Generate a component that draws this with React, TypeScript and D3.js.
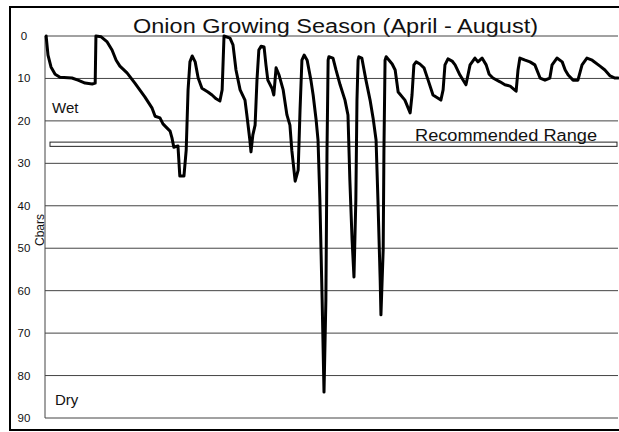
import React from "react";
import * as d3 from "d3";

// soil moisture tension readings, day of season (Apr 1 = 0) vs centibars
const days = [
  0.3, 0.8, 1.6, 2.7, 4.0, 7.2, 8.8, 10.7, 12.6, 13.4, 13.6, 15.0, 16.6, 17.9, 19.0, 20.0,
  21.9, 24.0, 26.7, 28.6, 29.4, 30.7, 31.5, 32.6, 33.4, 33.9, 34.4, 35.5, 36.0, 37.1, 37.7,
  38.2, 38.7, 39.3, 40.1, 40.9, 41.9, 43.5, 44.6, 45.7, 46.7, 47.3, 47.8, 49.4, 50.2, 51.0,
  52.1, 53.4, 53.9, 54.7, 55.0, 55.5, 56.1, 56.6, 57.1, 57.7, 58.5, 59.0, 59.5, 60.6, 61.1,
  61.7, 62.5, 63.6, 64.6, 65.4, 65.9, 66.8, 67.6, 68.1, 68.6, 69.2, 70.0, 71.0, 71.6, 72.4,
  72.9, 73.4, 74.0, 74.5, 75.0, 75.3, 75.6, 75.8, 76.9, 77.7, 78.8, 80.1, 80.9, 81.4, 82.0,
  82.5, 83.0, 83.3, 83.6, 83.8, 84.6, 85.7, 86.8, 87.6, 88.4, 88.9, 89.5, 89.7, 90.3, 90.5,
  90.8, 91.1, 92.7, 93.5, 94.3, 96.1, 97.5, 98.0, 98.5, 99.1, 100.1, 101.2, 102.3, 103.6,
  105.7, 106.3, 106.8, 107.6, 108.7, 109.5, 110.8, 112.4, 113.5, 114.8, 115.6, 116.7, 117.8,
  118.6, 119.6, 121.5, 122.8, 124.2, 125.8, 126.3, 126.8, 128.2, 129.5, 130.8, 132.2, 133.5,
  134.8, 135.4, 136.7, 138.1, 138.9, 139.7, 141.0, 142.3, 143.4, 144.7, 146.1, 148.2, 149.5,
  150.9, 152.2, 153.0,
];
const cbars = [
  0, 4.5, 7.3, 9.0, 9.7, 9.9, 10.4, 11.1, 11.3, 11.1, 0, 0.2, 1.4, 3.3, 5.7, 7.1,
  8.7, 11.1, 14.4, 17.0, 18.9, 19.3, 20.7, 21.7, 22.4, 24.0, 26.2, 25.9, 33.0, 33.0, 26.9,
  12.7, 6.1, 4.7, 6.1, 9.9, 12.3, 13.2, 13.9, 14.8, 15.3, 12.7, 0, 0.5, 2.1, 8.0,
  12.7, 15.1, 18.6, 24.5, 27.3, 23.3, 21.0, 10.4, 3.3, 2.4, 2.6, 6.8, 10.4, 12.3, 13.9,
  7.5, 9.2, 12.7, 18.6, 21.0, 26.9, 34.2, 31.6, 17.4, 5.7, 4.5, 5.7, 10.4, 13.9, 19.8,
  24.5, 38.6, 62.2, 83.9, 62.2, 26.9, 5.7, 4.9, 5.2, 8.0, 11.5, 15.1, 18.6, 33.9, 48.1,
  56.8, 38.6, 15.1, 5.7, 4.9, 5.2, 10.4, 15.1, 19.3, 24.5, 38.6, 57.5, 65.7, 50.4, 26.9,
  5.7, 4.9, 6.6, 8.0, 13.2, 15.1, 18.1, 13.9, 6.8, 6.1, 6.6, 7.5, 10.4, 13.9,
  15.1, 12.7, 6.8, 5.4, 5.9, 6.8, 9.2, 11.5, 6.8, 5.2, 6.1, 5.2, 6.8,
  9.0, 9.9, 10.8, 11.5, 11.8, 13.0, 8.0, 5.2, 5.7, 6.1, 6.8, 9.9, 10.4,
  9.9, 6.8, 5.2, 6.1, 8.0, 9.2, 10.4, 10.4, 6.8, 5.2, 5.7, 7.1, 8.0,
  9.4, 9.9, 9.9,
];
const yTicks = [0, 10, 20, 30, 40, 50, 60, 70, 80, 90];
const recommended = [25, 26];
const title = "Onion Growing Season (April - August)";

const W = 619;
const H = 432;
const left = 45;
const right = 618;
const top = 36;
const bottom = 418;
const font = "'Liberation Sans', Arial, sans-serif";

export default function App() {
  const x = d3.scaleLinear().domain([0, 153]).range([left, right]);
  const y = d3.scaleLinear().domain([0, 90]).range([top, bottom]);
  const pts: [number, number][] = days.map((d, i) => [d, cbars[i]]);
  const line = d3
    .line<[number, number]>()
    .x((d) => x(d[0]))
    .y((d) => y(d[1]));

  return (
    <svg
      width={W}
      height={H}
      style={{ position: "absolute", left: 0, top: 0, background: "#fff" }}
      fontFamily={font}
    >
      {/* outer frame */}
      <path d={`M${W} 7 H10 V430 H${W}`} fill="none" stroke="#000" strokeWidth={2} />

      <text
        x={133}
        y={33}
        fontSize={20}
        fill="#111"
        textLength={405}
        lengthAdjust="spacingAndGlyphs"
      >
        {title}
      </text>

      {/* grid */}
      {yTicks.map((t) => (
        <g key={t}>
          <line x1={left} x2={right} y1={y(t)} y2={y(t)} stroke="#444" strokeWidth={1} />
          <text x={24} y={y(t)} dy="0.35em" textAnchor="middle" fontSize={11.5} fill="#111">
            {t}
          </text>
        </g>
      ))}
      <line x1={left} x2={left} y1={top} y2={bottom} stroke="#444" strokeWidth={1} />

      {/* recommended range band */}
      <rect
        x={50}
        y={y(recommended[0])}
        width={right - 1 - 50}
        height={y(recommended[1]) - y(recommended[0])}
        fill="#fff"
        stroke="#222"
        strokeWidth={1}
      />
      <text
        x={415}
        y={141}
        fontSize={16}
        fill="#111"
        textLength={182}
        lengthAdjust="spacingAndGlyphs"
      >
        Recommended Range
      </text>

      <text x={52} y={113} fontSize={15} fill="#111">
        Wet
      </text>
      <text x={55} y={405} fontSize={15} fill="#111">
        Dry
      </text>
      <text
        transform={`translate(44,230) rotate(-90)`}
        textAnchor="middle"
        fontSize={12}
        fill="#111"
      >
        Cbars
      </text>

      <path
        d={line(pts) ?? ""}
        fill="none"
        stroke="#000"
        strokeWidth={3}
        strokeLinejoin="round"
        strokeLinecap="round"
      />
    </svg>
  );
}
